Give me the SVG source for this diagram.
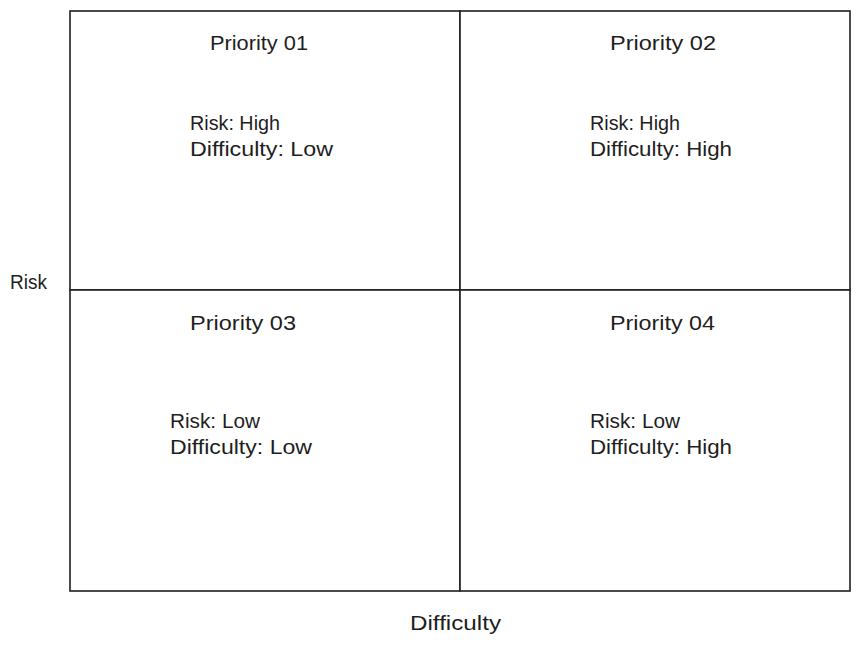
<svg xmlns="http://www.w3.org/2000/svg" width="860" height="647" viewBox="0 0 860 647">
<style>
.box{fill:#ffffff;stroke:#1e1e1e;stroke-width:1.6}
.t{font-family:"Liberation Sans",Arial,sans-serif;font-size:20px;fill:#1e1e1e}
</style>
<rect width="860" height="647" fill="#ffffff"/>
<g id="quadrant-priority-01">
<rect class="box" x="70" y="11" width="390" height="279"/>
<text class="t" x="210" y="50" textLength="98" lengthAdjust="spacingAndGlyphs">Priority 01</text>
<text class="t" x="190" y="130" textLength="90" lengthAdjust="spacingAndGlyphs">Risk: High</text>
<text class="t" x="190" y="156" textLength="143" lengthAdjust="spacingAndGlyphs">Difficulty: Low</text>
</g>
<g id="quadrant-priority-02">
<rect class="box" x="460" y="11" width="390" height="279"/>
<text class="t" x="610" y="50" textLength="106" lengthAdjust="spacingAndGlyphs">Priority 02</text>
<text class="t" x="590" y="130" textLength="90" lengthAdjust="spacingAndGlyphs">Risk: High</text>
<text class="t" x="590" y="156" textLength="142" lengthAdjust="spacingAndGlyphs">Difficulty: High</text>
</g>
<g id="quadrant-priority-03">
<rect class="box" x="70" y="290" width="390" height="301"/>
<text class="t" x="190" y="330" textLength="106" lengthAdjust="spacingAndGlyphs">Priority 03</text>
<text class="t" x="170" y="428" textLength="90" lengthAdjust="spacingAndGlyphs">Risk: Low</text>
<text class="t" x="170" y="454" textLength="142" lengthAdjust="spacingAndGlyphs">Difficulty: Low</text>
</g>
<g id="quadrant-priority-04">
<rect class="box" x="460" y="290" width="390" height="301"/>
<text class="t" x="610" y="330" textLength="105" lengthAdjust="spacingAndGlyphs">Priority 04</text>
<text class="t" x="590" y="428" textLength="90" lengthAdjust="spacingAndGlyphs">Risk: Low</text>
<text class="t" x="590" y="454" textLength="142" lengthAdjust="spacingAndGlyphs">Difficulty: High</text>
</g>
<g id="axis-risk">
<text class="t" x="10" y="289" textLength="37" lengthAdjust="spacingAndGlyphs">Risk</text>
</g>
<g id="axis-difficulty">
<text class="t" x="410" y="630" textLength="91" lengthAdjust="spacingAndGlyphs">Difficulty</text>
</g>
<g id="connectors"></g>
</svg>
